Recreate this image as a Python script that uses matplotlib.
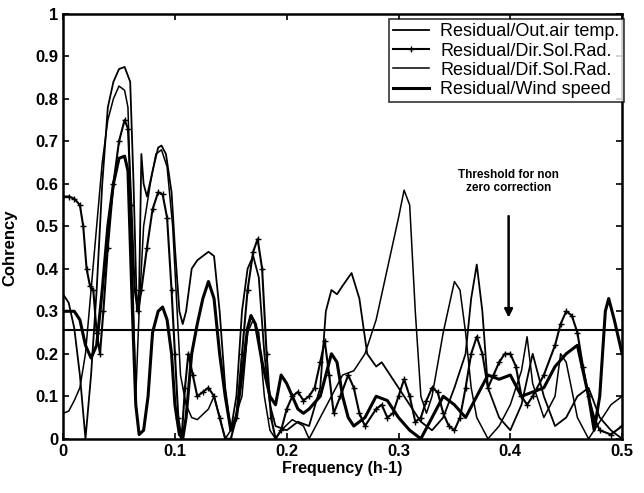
import matplotlib
matplotlib.use("Agg")
import matplotlib.pyplot as plt

# Residual/Out.air temp.
f_air = [0, 0.005, 0.01, 0.015, 0.02, 0.025, 0.03, 0.035, 0.04, 0.045, 0.05, 0.055,
         0.06, 0.063, 0.066, 0.068, 0.07, 0.072, 0.075, 0.08, 0.085, 0.088, 0.092,
         0.097, 0.1, 0.104, 0.107, 0.11, 0.115, 0.12, 0.13, 0.135, 0.14, 0.145, 0.15,
         0.155, 0.16, 0.165, 0.17, 0.175, 0.18, 0.185, 0.19, 0.2, 0.21, 0.22, 0.23,
         0.235, 0.24, 0.245, 0.25, 0.258, 0.265, 0.272, 0.28, 0.285, 0.29, 0.3, 0.31,
         0.32, 0.33, 0.34, 0.35, 0.36, 0.365, 0.37, 0.375, 0.38, 0.39, 0.4, 0.41,
         0.42, 0.43, 0.44, 0.45, 0.46, 0.47, 0.48, 0.49, 0.5]
c_air = [0.34, 0.32, 0.26, 0.15, 0.0, 0.15, 0.35, 0.6, 0.78, 0.84, 0.87, 0.875,
         0.84, 0.6, 0.3, 0.35, 0.67, 0.6, 0.57, 0.63, 0.685, 0.69, 0.67,
         0.58, 0.45, 0.3, 0.27, 0.3, 0.4, 0.42, 0.44, 0.43, 0.3, 0.12, 0.02,
         0.1, 0.3, 0.4, 0.43, 0.38, 0.2, 0.08, 0.03, 0.02, 0.04, 0.03, 0.12,
         0.3, 0.35, 0.34, 0.36, 0.39, 0.33, 0.2, 0.17, 0.18, 0.16, 0.12, 0.08,
         0.04, 0.02, 0.05, 0.12, 0.2, 0.33, 0.41, 0.3, 0.12, 0.05, 0.02, 0.08,
         0.2, 0.1, 0.03, 0.05, 0.1, 0.12, 0.05, 0.02, 0.0]

# Residual/Dir.Sol.Rad.
f_dir = [0, 0.005, 0.01, 0.015, 0.018, 0.021, 0.024, 0.027, 0.03, 0.033, 0.036,
         0.04, 0.045, 0.05, 0.055, 0.058, 0.061, 0.064, 0.067, 0.07, 0.075, 0.08,
         0.085, 0.089, 0.093, 0.097, 0.1, 0.103, 0.106, 0.109, 0.112, 0.116, 0.12,
         0.125, 0.13, 0.135, 0.14, 0.145, 0.15, 0.155, 0.16, 0.165, 0.17, 0.174,
         0.178, 0.182, 0.186, 0.19, 0.195, 0.2, 0.205, 0.21, 0.215, 0.22, 0.225,
         0.23, 0.234, 0.238, 0.242, 0.248, 0.255, 0.26, 0.265, 0.27, 0.28, 0.285,
         0.29, 0.295, 0.3, 0.305, 0.31, 0.315, 0.32, 0.325, 0.33, 0.335, 0.34,
         0.345, 0.35, 0.355, 0.36, 0.365, 0.37, 0.375, 0.38, 0.385, 0.39, 0.395,
         0.4, 0.405, 0.41, 0.415, 0.42, 0.43, 0.44, 0.445, 0.45, 0.455, 0.46,
         0.465, 0.47, 0.475, 0.48, 0.49, 0.5]
c_dir = [0.57, 0.57, 0.565, 0.55, 0.5, 0.4, 0.36, 0.35, 0.25, 0.2, 0.3,
         0.45, 0.6, 0.7, 0.75, 0.73, 0.55, 0.35, 0.3, 0.35, 0.45, 0.54,
         0.58, 0.575, 0.52, 0.35, 0.2, 0.05, 0.0, 0.12, 0.2, 0.15, 0.1,
         0.11, 0.12, 0.1, 0.05, 0.0, 0.0, 0.05, 0.2, 0.35, 0.44, 0.47,
         0.4, 0.2, 0.05, 0.0, 0.02, 0.07, 0.1, 0.11, 0.09, 0.1, 0.12,
         0.18, 0.23, 0.15, 0.06, 0.1, 0.15, 0.12, 0.06, 0.03, 0.07, 0.08,
         0.05, 0.06, 0.1, 0.14, 0.1, 0.04, 0.05, 0.09, 0.12, 0.11, 0.06,
         0.03, 0.02, 0.05, 0.12, 0.2, 0.24, 0.2, 0.12, 0.15, 0.18, 0.2,
         0.2, 0.17, 0.1, 0.08, 0.1, 0.15, 0.22, 0.27, 0.3, 0.29, 0.25,
         0.17, 0.1, 0.05, 0.02, 0.01, 0.03]

# Residual/Dif.Sol.Rad.
f_dif = [0, 0.005, 0.01, 0.015, 0.02, 0.025, 0.03, 0.035, 0.04, 0.045, 0.05,
         0.055, 0.058, 0.062, 0.065, 0.068, 0.072, 0.078, 0.083, 0.088, 0.093,
         0.098, 0.102, 0.105, 0.11, 0.115, 0.12, 0.13, 0.135, 0.14, 0.145, 0.15,
         0.16, 0.165, 0.17, 0.175, 0.18, 0.185, 0.19, 0.195, 0.205, 0.215, 0.22,
         0.23, 0.24, 0.25, 0.26, 0.27, 0.28, 0.29, 0.3, 0.305, 0.31, 0.315, 0.32,
         0.325, 0.33, 0.34, 0.35, 0.355, 0.36, 0.365, 0.37, 0.38, 0.39, 0.4, 0.41,
         0.415, 0.42, 0.43, 0.44, 0.445, 0.45, 0.46, 0.47, 0.48, 0.49, 0.5]
c_dif = [0.06, 0.065, 0.09, 0.12, 0.2, 0.35, 0.5, 0.65, 0.75, 0.8, 0.83,
         0.82, 0.78, 0.4, 0.1, 0.3, 0.5, 0.6, 0.67, 0.68, 0.64,
         0.5, 0.3, 0.15, 0.08, 0.05, 0.045, 0.07, 0.1, 0.05, 0.0, 0.02,
         0.1, 0.25, 0.28, 0.25, 0.1, 0.02, 0.0, 0.02, 0.045, 0.03, 0.0,
         0.05, 0.1, 0.15, 0.16, 0.2, 0.28, 0.4, 0.52, 0.585, 0.55, 0.3, 0.1,
         0.06, 0.1, 0.25, 0.37, 0.35, 0.25, 0.12, 0.05, 0.0, 0.03, 0.08, 0.16,
         0.24, 0.13, 0.05, 0.1, 0.2, 0.18, 0.05, 0.0, 0.04, 0.08, 0.1]

# Residual/Wind speed
f_wind = [0, 0.005, 0.01, 0.015, 0.02, 0.025, 0.03, 0.035, 0.04, 0.045, 0.05,
          0.055, 0.058, 0.062, 0.065, 0.068, 0.072, 0.076, 0.08, 0.085, 0.089,
          0.093, 0.097, 0.1, 0.104, 0.107, 0.11, 0.115, 0.12, 0.125, 0.13, 0.135,
          0.14, 0.145, 0.15, 0.155, 0.16, 0.165, 0.168, 0.172, 0.178, 0.185, 0.19,
          0.195, 0.2, 0.205, 0.21, 0.215, 0.22, 0.23, 0.235, 0.24, 0.245, 0.25,
          0.255, 0.26, 0.27, 0.28, 0.29, 0.3, 0.31, 0.32, 0.33, 0.34, 0.35, 0.36,
          0.37, 0.38, 0.39, 0.4, 0.41, 0.42, 0.43, 0.44, 0.45, 0.46, 0.47, 0.475,
          0.48, 0.485, 0.488, 0.493, 0.5]
c_wind = [0.3, 0.3, 0.3, 0.28, 0.22, 0.19, 0.22, 0.35, 0.5, 0.6, 0.66,
          0.665, 0.63, 0.3, 0.08, 0.01, 0.02, 0.1, 0.25, 0.3, 0.31,
          0.28, 0.2, 0.08, 0.01, 0.0, 0.05, 0.2, 0.27, 0.33, 0.37, 0.33,
          0.2, 0.1, 0.02, 0.05, 0.15, 0.26, 0.29, 0.27, 0.18, 0.1, 0.08,
          0.15, 0.13, 0.1, 0.07, 0.06, 0.07, 0.1, 0.15, 0.2, 0.18, 0.1,
          0.05, 0.03, 0.05, 0.1, 0.09, 0.05, 0.02, 0.0, 0.05, 0.1, 0.08, 0.05,
          0.1, 0.15, 0.14, 0.15, 0.1, 0.11, 0.12, 0.17, 0.2, 0.22, 0.1, 0.02,
          0.1, 0.3, 0.33, 0.28, 0.2]

threshold = 0.255
series_labels = ["Residual/Out.air temp.", "Residual/Dir.Sol.Rad.",
                 "Residual/Dif.Sol.Rad.", "Residual/Wind speed"]

plt.rcParams["font.family"] = "Liberation Sans"

fig = plt.figure(figsize=(6.44, 4.93), dpi=100)
ax = fig.add_axes([0.098, 0.11, 0.868, 0.862])

ax.plot(f_air, c_air, color="black", lw=1.3, label=series_labels[0])
ax.plot(f_dir, c_dir, color="black", lw=1.5, marker="+", markersize=4,
        markeredgewidth=1.0, label=series_labels[1])
ax.plot(f_dif, c_dif, color="black", lw=1.1, label=series_labels[2])
ax.plot(f_wind, c_wind, color="black", lw=2.2, label=series_labels[3])
ax.axhline(threshold, color="black", lw=1.5)

ax.set_xlim(0, 0.5)
ax.set_ylim(0, 1)
ax.set_xticks([0, 0.1, 0.2, 0.3, 0.4, 0.5])
ax.set_xticklabels(["0", "0.1", "0.2", "0.3", "0.4", "0.5"])
ax.set_yticks([i / 10 for i in range(11)])
ax.set_yticklabels(["0"] + [f"0.{i}" for i in range(1, 10)] + ["1"])
ax.tick_params(direction="in", top=True, right=True, length=4, width=1.2,
               labelsize=12)
for lab in ax.get_xticklabels() + ax.get_yticklabels():
    lab.set_fontweight("bold")
for s in ax.spines.values():
    s.set_linewidth(1.8)

ax.set_xlabel("Frequency (h-1)", fontsize=11.5, fontweight="bold", labelpad=2)
ax.set_ylabel("Cohrency", fontsize=12, fontweight="bold")
ax.yaxis.set_label_coords(-0.082, 0.45)

leg = ax.legend(loc="upper right", bbox_to_anchor=(1.003, 0.988), fontsize=13,
                frameon=True, fancybox=False, edgecolor="black",
                borderaxespad=0.0, handlelength=2.0, labelspacing=0.12,
                borderpad=0.25, handletextpad=0.6)
leg.get_frame().set_linewidth(1.2)

ax.annotate("Threshold for non\nzero correction", xy=(0.3985, 0.285),
            xytext=(0.3985, 0.605), ha="center", va="center", fontsize=8.5,
            fontweight="bold", linespacing=1.05,
            arrowprops=dict(arrowstyle="-|>", color="black", lw=1.8,
                            shrinkA=14, shrinkB=0, mutation_scale=12))

fig.savefig("out.png", dpi=100)
